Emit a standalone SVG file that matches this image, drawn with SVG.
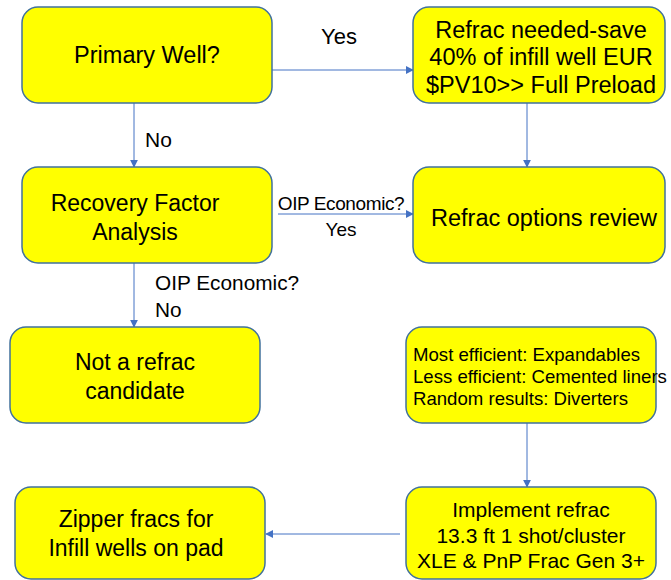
<svg xmlns="http://www.w3.org/2000/svg" width="671" height="580" viewBox="0 0 671 580">
<defs>
<style>
.box{fill:#FFFF00;stroke:#41719C;stroke-width:1.5}
.t{font-family:"Liberation Sans",Arial,sans-serif;fill:#000}
.c{stroke:#4472C4;stroke-width:1;fill:none}
</style>
<marker id="ah" viewBox="0 0 10 10" refX="9" refY="5" markerWidth="8" markerHeight="8" markerUnits="userSpaceOnUse" orient="auto">
<path d="M0,0 L10,5 L0,10 z" fill="#4472C4"/>
</marker>
</defs>
<rect width="671" height="580" fill="#fff"/>
<g id="connectors">
<line class="c" x1="272" y1="70" x2="413" y2="70" marker-end="url(#ah)"/>
<line class="c" x1="134" y1="103" x2="134" y2="167" marker-end="url(#ah)"/>
<line class="c" x1="527" y1="103" x2="527" y2="167" marker-end="url(#ah)"/>
<line class="c" x1="278" y1="214" x2="413" y2="214" marker-end="url(#ah)"/>
<line class="c" x1="134" y1="263" x2="134" y2="327" marker-end="url(#ah)"/>
<line class="c" x1="527" y1="423" x2="527" y2="487" marker-end="url(#ah)"/>
<line class="c" x1="400" y1="534" x2="266" y2="534" marker-end="url(#ah)"/>
<text class="t" x="339" y="44" font-size="22" text-anchor="middle">Yes</text>
<text class="t" x="145" y="147" font-size="21">No</text>
<text class="t" x="341" y="210" font-size="19" letter-spacing="-0.4" text-anchor="middle">OIP Economic?</text>
<text class="t" x="341" y="236" font-size="19" text-anchor="middle">Yes</text>
<text class="t" x="155" y="290" font-size="20.8">OIP Economic?</text>
<text class="t" x="155" y="317" font-size="20.8">No</text>
</g>
<g id="primary">
<rect class="box" x="22" y="7" width="250" height="96" rx="16"/>
<text class="t" x="147" y="63" font-size="23.5" text-anchor="middle">Primary Well?</text>
</g>
<g id="refrac-needed">
<rect class="box" x="413" y="7" width="252" height="96" rx="16"/>
<text class="t" x="541" y="38" font-size="23.5" text-anchor="middle">Refrac needed-save</text>
<text class="t" x="541" y="65" font-size="23.5" text-anchor="middle">40% of infill well EUR</text>
<text class="t" x="541" y="93" font-size="23.5" text-anchor="middle">$PV10&gt;&gt; Full Preload</text>
</g>
<g id="recovery">
<rect class="box" x="22" y="167" width="250" height="96" rx="16"/>
<text class="t" x="135" y="211" font-size="23" text-anchor="middle">Recovery Factor</text>
<text class="t" x="135" y="240" font-size="23" text-anchor="middle">Analysis</text>
</g>
<g id="options">
<rect class="box" x="413" y="167" width="252" height="96" rx="16"/>
<text class="t" x="544" y="226" font-size="23.5" text-anchor="middle">Refrac options review</text>
</g>
<g id="not-candidate">
<rect class="box" x="10" y="327" width="250" height="96" rx="16"/>
<text class="t" x="135" y="370" font-size="23" text-anchor="middle">Not a refrac</text>
<text class="t" x="135" y="399" font-size="23" text-anchor="middle">candidate</text>
</g>
<g id="options-list">
<rect class="box" x="406" y="327" width="250" height="96" rx="16"/>
<text class="t" x="413" y="361" font-size="18.6">Most efficient: Expandables</text>
<text class="t" x="413" y="383" font-size="18.6">Less efficient: Cemented liners</text>
<text class="t" x="413" y="405" font-size="18.6">Random results: Diverters</text>
</g>
<g id="implement">
<rect class="box" x="406" y="487" width="250" height="92" rx="16"/>
<text class="t" x="531" y="517" font-size="21" text-anchor="middle">Implement refrac</text>
<text class="t" x="531" y="543" font-size="21" text-anchor="middle">13.3 ft 1 shot/cluster</text>
<text class="t" x="531" y="568" font-size="21" text-anchor="middle">XLE &amp; PnP Frac Gen 3+</text>
</g>
<g id="zipper">
<rect class="box" x="15" y="487" width="250" height="92" rx="16"/>
<text class="t" x="136" y="527" font-size="23" text-anchor="middle">Zipper fracs for</text>
<text class="t" x="136" y="556" font-size="23" text-anchor="middle">Infill wells on pad</text>
</g>
</svg>
